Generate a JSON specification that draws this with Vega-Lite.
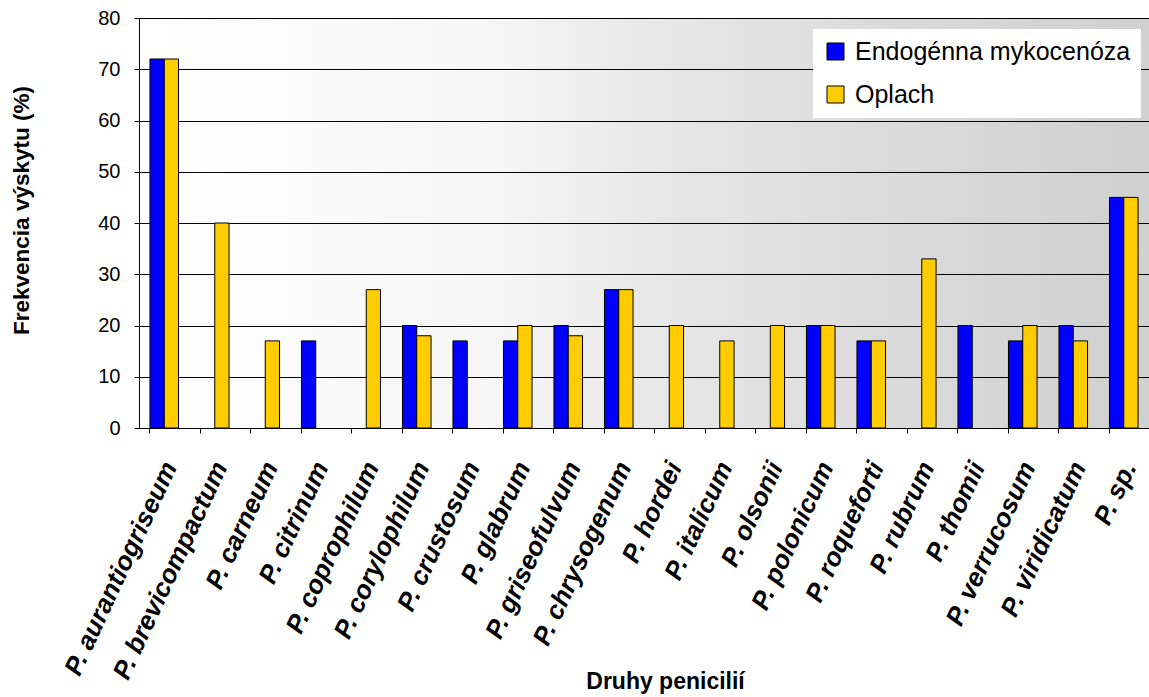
{
  "$schema": "https://vega.github.io/schema/vega-lite/v6.json",
  "width": 1010,
  "height": 410,
  "autosize": {"type": "none"},
  "padding": {"left": 139, "top": 18, "right": 0, "bottom": 269},
  "background": "white",
  "config": {
    "font": "Liberation Sans",
    "view": {
      "stroke": "#808080",
      "strokeWidth": 1,
      "fill": {
        "gradient": "linear",
        "x1": 0, "y1": 0, "x2": 1, "y2": 0,
        "stops": [
          {"offset": 0, "color": "#ffffff"},
          {"offset": 0.35, "color": "#f6f6f6"},
          {"offset": 0.5, "color": "#e8e8e8"},
          {"offset": 0.75, "color": "#dadada"},
          {"offset": 1, "color": "#d0d0d0"}
        ]
      }
    }
  },
  "data": {
    "values": [
      {"druh": "P. aurantiogriseum", "skupina": "Endogénna mykocenóza", "frekvencia": 72},
      {"druh": "P. aurantiogriseum", "skupina": "Oplach", "frekvencia": 72},
      {"druh": "P. brevicompactum", "skupina": "Oplach", "frekvencia": 40},
      {"druh": "P. carneum", "skupina": "Oplach", "frekvencia": 17},
      {"druh": "P. citrinum", "skupina": "Endogénna mykocenóza", "frekvencia": 17},
      {"druh": "P. coprophilum", "skupina": "Oplach", "frekvencia": 27},
      {"druh": "P. corylophilum", "skupina": "Endogénna mykocenóza", "frekvencia": 20},
      {"druh": "P. corylophilum", "skupina": "Oplach", "frekvencia": 18},
      {"druh": "P. crustosum", "skupina": "Endogénna mykocenóza", "frekvencia": 17},
      {"druh": "P. glabrum", "skupina": "Endogénna mykocenóza", "frekvencia": 17},
      {"druh": "P. glabrum", "skupina": "Oplach", "frekvencia": 20},
      {"druh": "P. griseofulvum", "skupina": "Endogénna mykocenóza", "frekvencia": 20},
      {"druh": "P. griseofulvum", "skupina": "Oplach", "frekvencia": 18},
      {"druh": "P. chrysogenum", "skupina": "Endogénna mykocenóza", "frekvencia": 27},
      {"druh": "P. chrysogenum", "skupina": "Oplach", "frekvencia": 27},
      {"druh": "P. hordei", "skupina": "Oplach", "frekvencia": 20},
      {"druh": "P. italicum", "skupina": "Oplach", "frekvencia": 17},
      {"druh": "P. olsonii", "skupina": "Oplach", "frekvencia": 20},
      {"druh": "P. polonicum", "skupina": "Endogénna mykocenóza", "frekvencia": 20},
      {"druh": "P. polonicum", "skupina": "Oplach", "frekvencia": 20},
      {"druh": "P. roqueforti", "skupina": "Endogénna mykocenóza", "frekvencia": 17},
      {"druh": "P. roqueforti", "skupina": "Oplach", "frekvencia": 17},
      {"druh": "P. rubrum", "skupina": "Oplach", "frekvencia": 33},
      {"druh": "P. thomii", "skupina": "Endogénna mykocenóza", "frekvencia": 20},
      {"druh": "P. verrucosum", "skupina": "Endogénna mykocenóza", "frekvencia": 17},
      {"druh": "P. verrucosum", "skupina": "Oplach", "frekvencia": 20},
      {"druh": "P. viridicatum", "skupina": "Endogénna mykocenóza", "frekvencia": 20},
      {"druh": "P. viridicatum", "skupina": "Oplach", "frekvencia": 17},
      {"druh": "P. sp.", "skupina": "Endogénna mykocenóza", "frekvencia": 45},
      {"druh": "P. sp.", "skupina": "Oplach", "frekvencia": 45}
    ]
  },
  "mark": {"type": "bar", "stroke": "black", "strokeWidth": 1},
  "encoding": {
    "x": {
      "field": "druh",
      "type": "nominal",
      "sort": null,
      "scale": {"paddingInner": 0.434, "paddingOuter": 0.217},
      "axis": {
        "title": "Druhy penicilií",
        "titleFont": "Liberation Sans",
        "titleFontSize": 23,
        "titleFontWeight": "bold",
        "titleColor": "black",
        "titleX": 526,
        "titleY": 260,
        "titleAlign": "center",
        "titleBaseline": "alphabetic",
        "labelAngle": -65,
        "labelAlign": "right",
        "labelBaseline": "middle",
        "labelFontSize": 26,
        "labelFontWeight": "bold",
        "labelFontStyle": "italic",
        "labelColor": "black",
        "labelPadding": 30,
        "labelOffset": 6,
        "labelOverlap": false,
        "labelLimit": 500,
        "labelBound": false,
        "bandPosition": 0,
        "tickColor": "black",
        "tickSize": 5,
        "domainColor": "black",
        "grid": false
      }
    },
    "xOffset": {
      "field": "skupina",
      "type": "nominal",
      "scale": {"domain": ["Endogénna mykocenóza", "Oplach"], "paddingInner": 0, "paddingOuter": 0}
    },
    "y": {
      "field": "frekvencia",
      "type": "quantitative",
      "scale": {"domain": [0, 80], "nice": false},
      "axis": {
        "title": "Frekvencia výskytu (%)",
        "titleFont": "Liberation Sans",
        "titleFontSize": 22.5,
        "titleFontWeight": "bold",
        "titleColor": "black",
        "titleAngle": -90,
        "titleX": -111,
        "titleY": 192,
        "titleAlign": "center",
        "titleBaseline": "alphabetic",
        "values": [0, 10, 20, 30, 40, 50, 60, 70, 80],
        "labelFontSize": 20,
        "labelColor": "black",
        "labelPadding": 14,
        "tickColor": "black",
        "tickSize": 5,
        "domainColor": "black",
        "gridColor": "black",
        "gridWidth": 1
      }
    },
    "color": {
      "field": "skupina",
      "type": "nominal",
      "scale": {"domain": ["Endogénna mykocenóza", "Oplach"], "range": ["#0000ff", "#ffcc00"]},
      "legend": {
        "title": null,
        "orient": "none",
        "legendX": 674,
        "legendY": 11,
        "fillColor": "white",
        "padding": 10,
        "labelFontSize": 25,
        "labelColor": "black",
        "labelLimit": 500,
        "symbolType": "square",
        "symbolSize": 289,
        "symbolStrokeColor": "black",
        "symbolStrokeWidth": 1,
        "rowPadding": 17,
        "labelOffset": 7
      }
    }
  }
}
